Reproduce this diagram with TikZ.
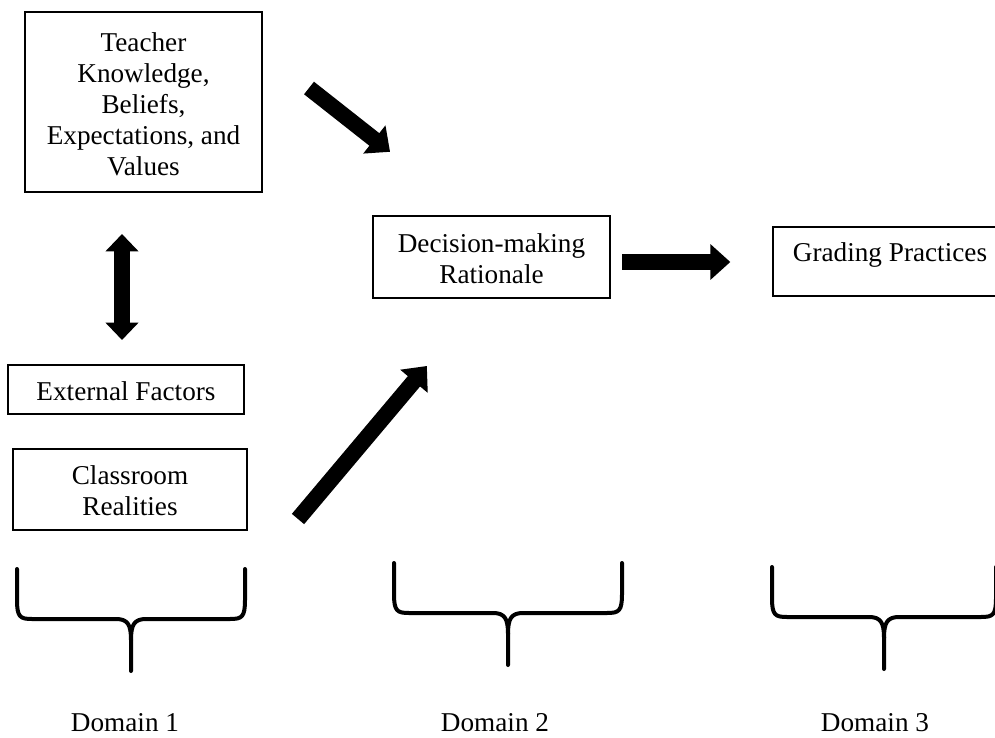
\documentclass[tikz,border=0pt]{standalone}
\usepackage{fontspec}
\setmainfont{Liberation Serif}
\usetikzlibrary{arrows.meta}
\begin{document}
\begin{tikzpicture}[x=0.75pt,y=-0.75pt,
  every node/.style={font=\fontsize{20.4pt}{23.3pt}\selectfont},
  box/.style={draw=black,line width=1.5pt,inner sep=0pt,align=center},
  plain/.style={inner sep=0pt,align=center},
  blockarrow/.style={line width=12pt,-{Triangle[length=15pt,width=26pt]},shorten >=-1pt},
  blockboth/.style={line width=11.5pt,{Triangle[length=13pt,width=24pt]}-{Triangle[length=13pt,width=24pt]}},
  brace/.style={line width=3pt,line cap=round,line join=round}
]
\useasboundingbox (0,0) rectangle (995,738);
\clip (0,0) rectangle (995,738);
\fill[white] (0,0) rectangle (995,738);

% Domain 1 boxes
\node[box,minimum width=237*0.75pt,minimum height=180*0.75pt] (teacher) at (143.5,102) {};
\node[plain] (teachertext) at (143.5,104)
  {Teacher\\Knowledge,\\Beliefs,\\Expectations, and\\Values};
\node[box,minimum width=236*0.75pt,minimum height=49*0.75pt] (external) at (126,389.5) {};
\node[plain] (externaltext) at (126,391.5) {External Factors};
\node[box,minimum width=234*0.75pt,minimum height=81*0.75pt] (classroom) at (130,489.5) {};
\node[plain] (classroomtext) at (130,490.5) {Classroom\\Realities};

% Domain 2 box
\node[box,minimum width=237*0.75pt,minimum height=82*0.75pt] (decision) at (491.5,257) {};
\node[plain] (decisiontext) at (491.5,259) {Decision-making\\Rationale};

% Domain 3 box (runs off the right edge)
\node[box,minimum width=240*0.75pt,minimum height=69*0.75pt,anchor=north west] (grading) at (772,226) {};
\node[plain] (gradingtext) at (890,255) {Grading Practices};

% Block arrows between the boxes
\coordinate (a1s) at (309,88);
\coordinate (a1e) at (389,151);
\coordinate (a2s) at (122,234);
\coordinate (a2e) at (122,340);
\coordinate (a3s) at (298,519);
\coordinate (a3e) at (426,367);
\coordinate (a4s) at (622,262);
\coordinate (a4e) at (729,262);
\draw[blockarrow] (a1s) -- (a1e);
\draw[blockboth] (a2s) -- (a2e);
\draw[blockarrow] (a3s) -- (a3e);
\draw[blockarrow] (a4s) -- (a4e);

% Braces under each domain
\draw[brace] (17,569) -- (17,600) .. controls (17,617) and (20,619) .. (32,619)
  -- (116,619) .. controls (128,619) and (131,625) .. (131,640) -- (131,671);
\draw[brace] (245,569) -- (245,600) .. controls (245,617) and (242,619) .. (230,619)
  -- (146,619) .. controls (134,619) and (131,625) .. (131,640);
\draw[brace] (394,563) -- (394,594) .. controls (394,611) and (397,613) .. (409,613)
  -- (493,613) .. controls (505,613) and (508,619) .. (508,634) -- (508,665);
\draw[brace] (622,563) -- (622,594) .. controls (622,611) and (619,613) .. (607,613)
  -- (523,613) .. controls (511,613) and (508,619) .. (508,634);
\draw[brace] (772,567) -- (772,598) .. controls (772,615) and (775,617) .. (787,617)
  -- (869,617) .. controls (881,617) and (884,623) .. (884,638) -- (884,669);
\draw[brace] (996,567) -- (996,598) .. controls (996,615) and (993,617) .. (981,617)
  -- (899,617) .. controls (887,617) and (884,623) .. (884,638);

% Domain labels
\node[plain] (d1) at (125,723) {Domain 1};
\node[plain] (d2) at (495,723) {Domain 2};
\node[plain] (d3) at (875,723) {Domain 3};
\end{tikzpicture}
\end{document}
